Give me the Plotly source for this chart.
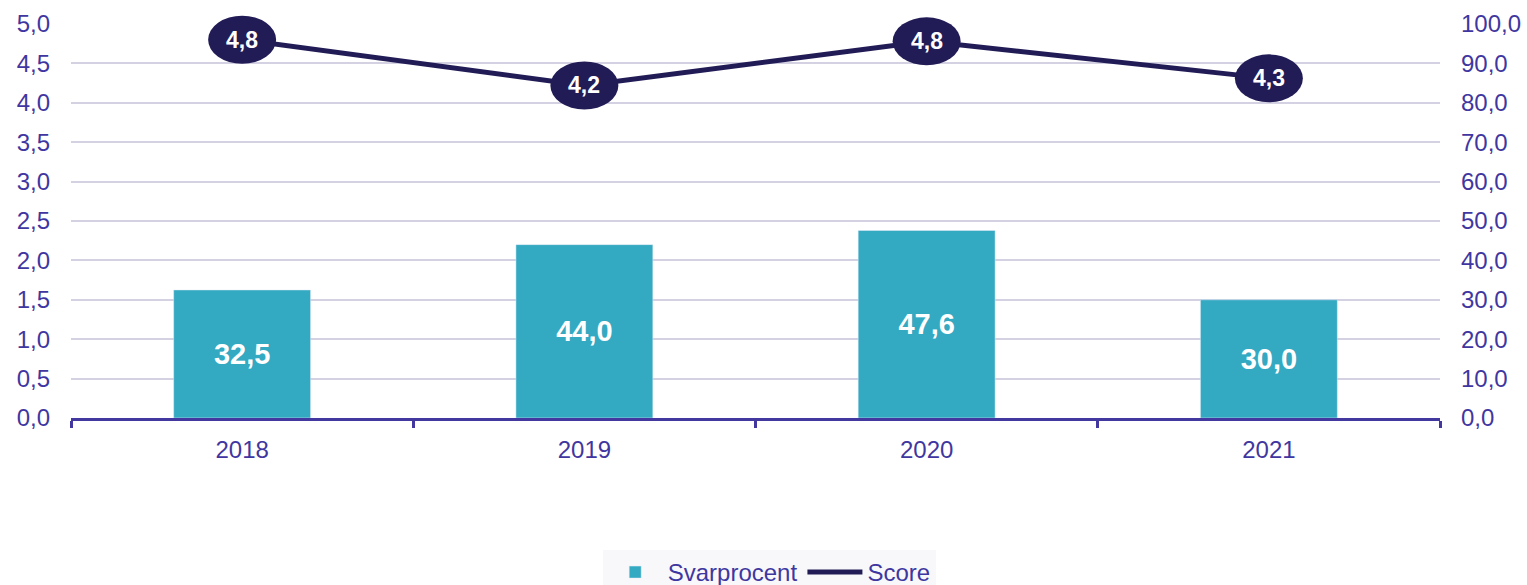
import plotly.graph_objects as go

# data
years = ['2018', '2019', '2020', '2021']
svarprocent = [32.5, 44.0, 47.6, 30.0]
score = [4.8, 4.22, 4.78, 4.31]

score_max = 5
pct_max = 100

teal = '#33a9c2'
navy = '#221c56'
purple = '#3f379f'
font_family = 'Arial, Liberation Sans, sans-serif'

fig = go.Figure()

# bars on the right axis (0-100)
fig.add_trace(
    go.Bar(
        x=years,
        y=svarprocent,
        name='Svarprocent',
        marker_color=teal,
        width=0.4,
        yaxis='y2',
        texttemplate='%{y:.1f}',
        textposition='inside',
        insidetextanchor='middle',
        textangle=0,
        textfont=dict(color='white', size=29, family=font_family, weight='bold'),
    )
)

# score line on the left axis (0-5)
fig.add_trace(
    go.Scatter(
        x=years,
        y=score,
        name='Score',
        mode='lines',
        line=dict(color=navy, width=5),
        yaxis='y',
    )
)

# ellipse badges (y in domain units so they are not clipped at the top)
shapes = []
annotations = []
for i, v in enumerate(score):
    shapes.append(
        dict(
            type='circle',
            xref='x',
            yref='y domain',
            xsizemode='pixel',
            ysizemode='pixel',
            xanchor=i,
            yanchor=v / score_max,
            x0=-34,
            x1=34,
            y0=-24,
            y1=24,
            fillcolor=navy,
            line=dict(width=0),
            layer='above',
        )
    )
    annotations.append(
        dict(
            x=i,
            y=v,
            xref='x',
            yref='y',
            text='<b>' + f'{v:.1f}'.replace('.', ',') + '</b>',
            showarrow=False,
            font=dict(color='white', size=23, family=font_family),
        )
    )

fig.update_layout(
    width=1527,
    height=585,
    margin=dict(l=71, r=87, t=24, b=167, autoexpand=False),
    plot_bgcolor='white',
    paper_bgcolor='white',
    separators=',.',
    font=dict(family=font_family, size=24, color=purple),
    shapes=shapes,
    annotations=annotations,
    showlegend=True,
    legend=dict(
        orientation='h',
        x=0.51,
        xanchor='center',
        y=-0.335,
        yanchor='top',
        bgcolor='#f8f8fa',
        font=dict(size=24, color=purple),
        itemwidth=55,
    ),
    xaxis=dict(
        type='category',
        automargin=False,
        showline=True,
        linecolor='#4337a0',
        linewidth=3,
        ticks='outside',
        tickson='boundaries',
        ticklen=7,
        tickwidth=3,
        tickcolor='#4337a0',
        showgrid=False,
        ticklabelstandoff=8,
        tickfont=dict(size=24, color=purple),
    ),
    yaxis=dict(
        range=[0, score_max],
        automargin=False,
        dtick=0.5,
        tickformat='.1f',
        showgrid=True,
        gridcolor='#d3d1e2',
        gridwidth=2,
        zeroline=False,
        ticklabelstandoff=20,
        tickfont=dict(size=24, color=purple),
    ),
    yaxis2=dict(
        range=[0, pct_max],
        automargin=False,
        dtick=10,
        tickformat='.1f',
        overlaying='y',
        side='right',
        showgrid=False,
        zeroline=False,
        ticklabelstandoff=20,
        tickfont=dict(size=24, color=purple),
    ),
)

fig.write_html(
    'out.html',
    config={'displayModeBar': False},
    post_script="document.body.style.margin='0';document.body.style.overflow='hidden';",
)
